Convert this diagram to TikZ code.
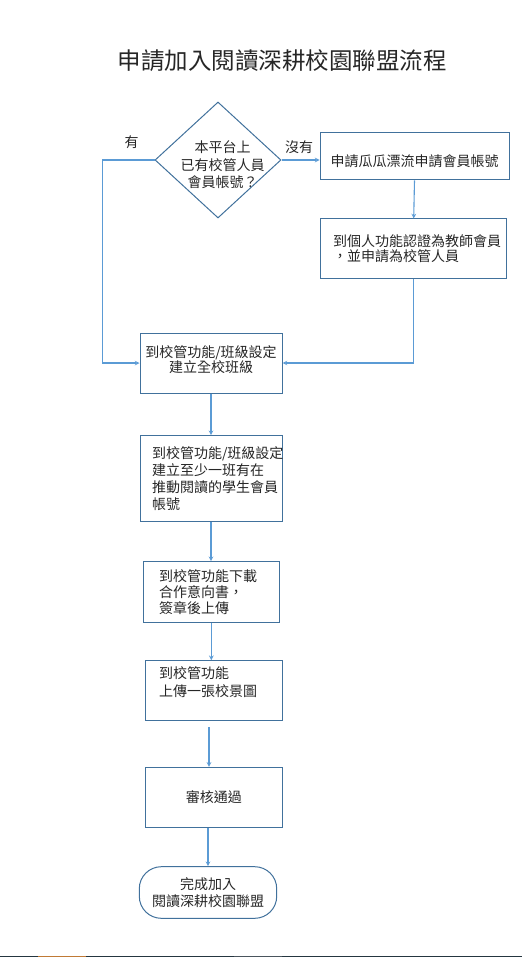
\documentclass[tikz,border=0pt]{standalone}
\usepackage{fontspec}
\setmainfont{Noto Sans CJK TC}
\usetikzlibrary{shapes.geometric}

\definecolor{boxblue}{HTML}{41719C}
\definecolor{lineblue}{HTML}{5B9BD5}
\definecolor{inkgray}{HTML}{262626}
\definecolor{barnavy}{HTML}{253640}
\definecolor{barorange}{HTML}{C07A36}
\definecolor{bargray}{HTML}{4A555D}

\begin{document}
\begin{tikzpicture}[x=1pt, y=-1pt, >=stealth,
    every node/.style={font=\fontsize{14}{16}\selectfont, text=inkgray},
    flowbox/.style={draw=boxblue, line width=1pt, rectangle, inner sep=0pt},
    leftbox/.style={flowbox, align=left},
    decision/.style={draw=boxblue, line width=1pt, diamond, inner sep=0pt},
    terminal/.style={flowbox, rounded corners=22pt, align=center},
    flowarrow/.style={->, draw=lineblue, line width=1.1pt}]

    % --- 1. 畫面範圍 ---
    \useasboundingbox (0,0) rectangle (522,957);
    \fill[barnavy] (0,955.5) rectangle (522,957);
    \fill[barorange] (38,955.5) rectangle (86,957);
    \fill[bargray] (234,955.5) rectangle (282,957);

    % --- 2. 標題 ---
    \node[font=\fontsize{23.5}{28}\selectfont] (title) at (282,61) {申請加入閱讀深耕校園聯盟流程};

    % --- 3. 判斷：是否已有校管人員帳號 ---
    \node[decision, minimum width=126pt, minimum height=116pt] (check) at (218,160) {};
    \node[align=center, font=\fontsize{14}{17.5}\selectfont] (checktext) at (222.5,165)
    {本平台上\\已有校管人員\\會員帳號？};
    \node (yes) at (131.7,142.7) {有};
    \node (no) at (299,147) {沒有};

    % --- 4. 右側：申請帳號 ---
    \node[flowbox, minimum width=189pt, minimum height=47pt, text height=22pt] (apply) at (414.5,156.3)
    {申請瓜瓜漂流申請會員帳號};
    \node[leftbox, inner xsep=12.3pt, text width=161pt, minimum height=60pt,
      font=\fontsize{14}{15}\selectfont] (verify) at (413.7,249)
    {到個人功能認證為教師會員\\，並申請為校管人員};

    % --- 5. 主流程 ---
    \node[flowbox, align=center, minimum width=142pt, minimum height=60pt,
      font=\fontsize{14}{15}\selectfont] (build) at (211,363)
    {\mbox{}\\[-9pt]到校管功能/班級設定\\建立全校班級};
    \node[leftbox, inner xsep=12pt, text width=118pt, minimum height=86pt,
      font=\fontsize{14}{17}\selectfont] (classes) at (211,478.7)
    {到校管功能/班級設定\\建立至少一班有在\\推動閱讀的學生會員\\帳號};
    \node[leftbox, inner xsep=15.7pt, text width=104.6pt, minimum height=60.6pt] (consent) at (211.3,592)
    {到校管功能下載\\合作意向書，\\簽章後上傳};
    \node[leftbox, inner xsep=13.7pt, text width=109.6pt, minimum height=60.3pt,
      font=\fontsize{14}{18}\selectfont] (photo) at (213.8,690.8)
    {到校管功能\\上傳一張校景圖\\\mbox{}};
    \node[flowbox, minimum width=137pt, minimum height=60pt] (review) at (213.8,797.3) {審核通過};
    \node[terminal, minimum width=137.4pt, minimum height=51.6pt,
      font=\fontsize{14}{16.5}\selectfont] (done) at (208,892.5)
    {完成加入\\閱讀深耕校園聯盟};

    % --- 6. 連接線 ---
    \coordinate (yesbend) at (102.7,160);
    \draw[flowarrow] (check.west) -- (yesbend) |- (build.west);
    \draw[flowarrow] (check.east) -- (check.east -| apply.west);
    \draw[flowarrow] (apply.south) -- (verify.north);
    \draw[flowarrow] (verify.south) |- (build.east);
    \draw[flowarrow] (build.south) -- (classes.north);
    \draw[flowarrow] (classes.south) -- (classes.south |- consent.north);
    \draw[flowarrow] (consent.south) -- (consent.south |- photo.north);
    \draw[flowarrow] ([xshift=-4.8pt, yshift=-5.7pt]photo.south) -- ([xshift=-4.8pt]review.north);
    \draw[flowarrow] (review.south -| done.north) -- (done.north);

\end{tikzpicture}
\end{document}
